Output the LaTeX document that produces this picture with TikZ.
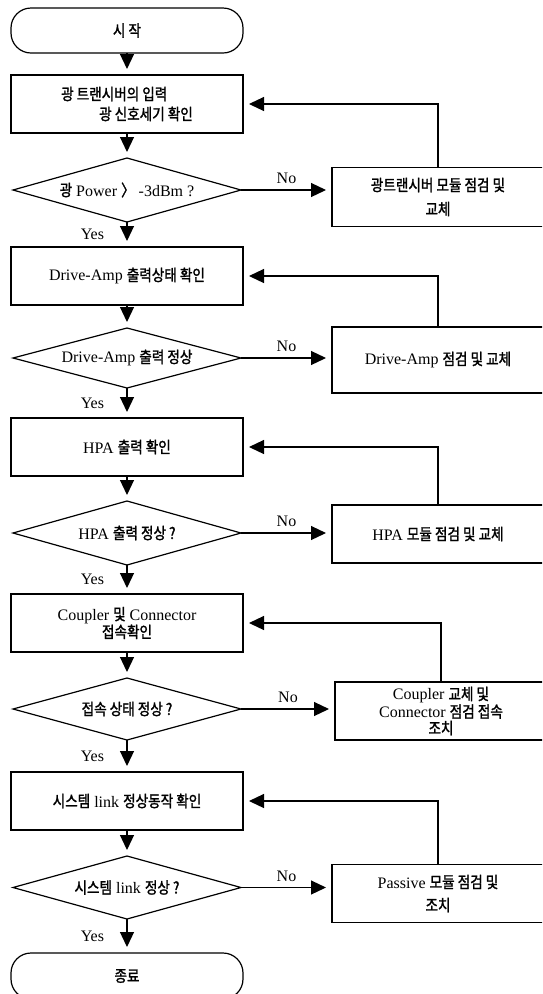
\documentclass[tikz,border=0pt]{standalone}
\usepackage{fontspec}
\setmainfont{Liberation Serif}
\newfontfamily\krfont[FakeStretch=0.85,AutoFakeBold=1.5]{Noto Sans CJK KR}
\newcommand\hg[1]{{\krfont\bfseries #1}}
\usetikzlibrary{positioning,shapes.geometric,arrows.meta}

\begin{document}
\begin{tikzpicture}[x=1pt,y=1pt,node distance=25pt,
    terminal/.style={rectangle,rounded corners=20pt,draw=black,line width=1.2pt,outer sep=0pt,minimum width=232pt,minimum height=45pt,font=\fontsize{16}{19}\selectfont},
    action/.style={rectangle,draw=black,line width=1.2pt,outer sep=0pt,minimum width=232pt,minimum height=58pt,align=center,font=\fontsize{16}{20}\selectfont},
    check/.style={diamond,draw=black,line width=1.2pt,outer sep=0pt,aspect=3.6,minimum width=228pt,minimum height=64pt,inner sep=0pt,font=\fontsize{16}{19}\selectfont},
    repair/.style={rectangle,draw=black,line width=1.2pt,outer sep=0pt,minimum width=212pt,minimum height=58pt,align=center,font=\fontsize{16}{24}\selectfont},
    arrow/.style={-{Triangle[length=15pt,width=14pt]},line width=1.2pt,shorten >=6pt},
    yes/.style={midway,left=19pt,font=\fontsize{16}{19}\selectfont},
    no/.style={midway,above=2pt,font=\fontsize{16}{19}\selectfont}
    ]
    \useasboundingbox (0,0) rectangle (542,-994);
    \clip (0,0) rectangle (542,-994);

    \node[terminal] (start) at (127,-30.5) {\hg{시 작}};
    \node[action,below=22pt of start,align=left] (optin) {\hg{광 트랜시버의 입력}\\\hspace*{38pt}\hg{광 신호세기 확인}};
    \node[check,below=of optin] (optchk) {\hg{광} Power \hg{〉} -3dBm ?};
    \node[action,below=of optchk] (amp) {Drive-Amp \hg{출력상태 확인}};
    \node[check,below=23pt of amp,minimum height=60pt] (ampchk) {Drive-Amp \hg{출력 정상}};
    \node[action,below=30pt of ampchk] (hpa) {HPA \hg{출력 확인}};
    \node[check,below=of hpa] (hpachk) {HPA \hg{출력 정상 ?}};
    \node[action,below=29pt of hpachk,font=\fontsize{16}{16}\selectfont] (conn) {Coupler \hg{및} Connector\\\hg{접속확인}};
    \node[check,below=26pt of conn,minimum height=62pt] (connchk) {\hg{접속 상태 정상 ?}};
    \node[action,below=32pt of connchk] (link) {\hg{시스템} link \hg{정상동작 확인}};
    \node[check,below=26pt of link,minimum height=63pt] (linkchk) {\hg{시스템} link \hg{정상 ?}};
    \node[terminal,below=34pt of linkchk,minimum height=46pt] (stop) {\hg{종료}};

    % repair boxes run past the right edge
    \node[repair,right=91pt of optchk,yshift=-7pt,minimum height=59pt] (optfix) {\hg{광트랜시버 모듈 점검 및}\\\hg{교체}};
    \node[repair,right=91pt of ampchk,yshift=-2pt,minimum height=66pt] (ampfix) {Drive-Amp \hg{점검 및 교체}};
    \node[repair,right=91pt of hpachk,yshift=-1pt] (hpafix) {HPA \hg{모듈 점검 및 교체}};
    \node[repair,right=94pt of connchk,yshift=-2pt,font=\fontsize{16}{16.5}\selectfont] (connfix) {Coupler \hg{교체 및}\\Connector \hg{점검 접속}\\\hg{조치}};
    \node[repair,right=91pt of linkchk,yshift=-6pt,font=\fontsize{16}{23}\selectfont] (linkfix) {Passive \hg{모듈 점검 및}\\\hg{조치}};

    \draw[arrow] (start) -- (optin);
    \draw[arrow] (optin) -- (optchk);
    \draw[arrow] (optchk) -- node[yes] {Yes} (amp);
    \draw[arrow] (amp) -- (ampchk);
    \draw[arrow] (ampchk) -- node[yes] {Yes} (hpa);
    \draw[arrow] (hpa) -- (hpachk);
    \draw[arrow] (hpachk) -- node[yes] {Yes} (conn);
    \draw[arrow] (conn) -- (connchk);
    \draw[arrow] (connchk) -- node[yes] {Yes} (link);
    \draw[arrow] (link) -- (linkchk);
    \draw[arrow] (linkchk) -- node[yes] {Yes} (stop);

    \draw[arrow] (optchk.east) -- node[no] {No} (optchk.east -| optfix.west);
    \draw[arrow] (ampchk.east) -- node[no] {No} (ampchk.east -| ampfix.west);
    \draw[arrow] (hpachk.east) -- node[no] {No} (hpachk.east -| hpafix.west);
    \draw[arrow] (connchk.east) -- node[no] {No} (connchk.east -| connfix.west);
    \draw[arrow] (linkchk.east) -- node[no] {No} (linkchk.east -| linkfix.west);

    \draw[arrow] (optfix.north) |- (optin.east);
    \draw[arrow] (ampfix.north) |- (amp.east);
    \draw[arrow] (hpafix.north) |- (hpa.east);
    \draw[arrow] (connfix.north) |- (conn.east);
    \draw[arrow] (linkfix.north) |- (link.east);

  \end{tikzpicture}
\end{document}
